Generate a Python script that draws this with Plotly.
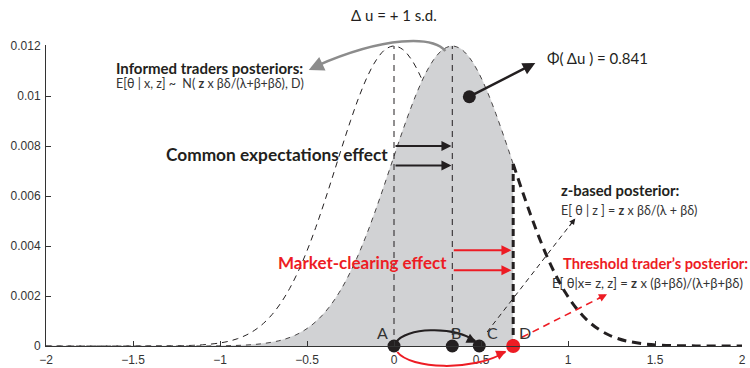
import plotly.graph_objects as go

# ---------------- data ----------------
# informed traders' posterior density (centred at A)
thin_x = [-2.0, -1.4, -1.3, -1.2, -1.1, -1.0, -0.95, -0.9, -0.85, -0.8, -0.75, -0.7, -0.65,
          -0.6, -0.55, -0.5, -0.45, -0.4, -0.35, -0.3, -0.25, -0.2, -0.15, -0.1, -0.05, 0.0,
          0.05, 0.1, 0.15, 0.2, 0.25, 0.3, 0.35, 0.4, 0.45, 0.5, 0.55, 0.6]
thin_y = [0.0, 0.0000015, 0.0000051, 0.0000161, 0.0000464, 0.000122, 0.000190, 0.000291,
          0.000435, 0.000635, 0.000907, 0.001265, 0.001725, 0.002298, 0.002992, 0.003808,
          0.004736, 0.005757, 0.006838, 0.007938, 0.009007, 0.009987, 0.010822, 0.011461,
          0.011863, 0.012, 0.011863, 0.011461, 0.010822, 0.009987, 0.009007, 0.007938,
          0.006838, 0.005757, 0.004736, 0.003808, 0.002992, 0.002298]

# shifted posterior density (centred at B)
bold_x = [-2.0, -1.065, -0.965, -0.865, -0.765, -0.665, -0.615, -0.565, -0.515, -0.465, -0.415,
          -0.365, -0.315, -0.265, -0.215, -0.165, -0.115, -0.065, -0.015, 0.035, 0.085, 0.135,
          0.185, 0.235, 0.285, 0.335, 0.385, 0.435, 0.485, 0.535, 0.585, 0.635, 0.685, 0.735,
          0.785, 0.835, 0.885, 0.935, 0.985, 1.035, 1.085, 1.135, 1.185, 1.235, 1.285, 1.335,
          1.435, 1.535, 1.635, 1.735, 2.0]
bold_y = [0.0, 0.000004, 0.0000121, 0.0000336, 0.000086, 0.000203, 0.000302, 0.000440,
          0.000629, 0.000881, 0.001208, 0.001624, 0.002139, 0.002761, 0.003491, 0.004325,
          0.005251, 0.006246, 0.007278, 0.008311, 0.009297, 0.010192, 0.010947, 0.011520,
          0.011878, 0.012, 0.011878, 0.011520, 0.010947, 0.010192, 0.009297, 0.008311,
          0.007278, 0.006246, 0.005251, 0.004325, 0.003491, 0.002761, 0.002139, 0.001624,
          0.001208, 0.000881, 0.000629, 0.000440, 0.000302, 0.000203, 0.000086, 0.0000336,
          0.0000121, 0.000004, 0.0]

point_labels = ["A", "B", "C", "D"]
point_x = [0.0, 0.335, 0.49, 0.685]
threshold_x = 0.685
threshold_y = 0.007278
guide_x = [0.0, 0.335]
guide_top = [0.012, 0.012]
common_y = [0.0080, 0.00722]
market_y = [0.00383, 0.00303]
mass_dot = (0.433, 0.00997)

x_ticks = [-2, -1.5, -1, -0.5, 0, 0.5, 1, 1.5, 2]
y_ticks = [0, 0.002, 0.004, 0.006, 0.008, 0.01, 0.012]

# ---------------- style ----------------
BLACK = "#231f20"
RED = "#ed1c24"
GREY = "#8c8c8c"
FILL = "#d1d2d4"
TXT = "Lato, 'Open Sans', sans-serif"

fig = go.Figure()

fig.add_trace(go.Scatter(x=thin_x, y=thin_y, mode="lines", line_shape="spline",
                         line=dict(color=BLACK, width=1, dash="6px,5px"), hoverinfo="skip"))

fx = [x for x in bold_x if x <= threshold_x + 1e-9]
fy = bold_y[:len(fx)]
fig.add_trace(go.Scatter(x=fx, y=fy, mode="lines", line_shape="spline", fill="tozeroy",
                         fillcolor=FILL, line=dict(color=FILL, width=0.5), hoverinfo="skip"))
fig.add_trace(go.Scatter(x=fx, y=fy, mode="lines", line_shape="spline",
                         line=dict(color=BLACK, width=0.8, dash="5px,5px"), hoverinfo="skip"))
rx = [x for x in bold_x if x >= threshold_x - 1e-9]
ry = bold_y[len(bold_x) - len(rx):]
fig.add_trace(go.Scatter(x=rx, y=ry, mode="lines", line_shape="spline",
                         line=dict(color=BLACK, width=3, dash="9px,6px"), hoverinfo="skip"))

for gx, gt in zip(guide_x, guide_top):
    fig.add_trace(go.Scatter(x=[gx, gx], y=[0, gt], mode="lines",
                             line=dict(color=BLACK, width=1, dash="6px,5px"), hoverinfo="skip"))
fig.add_trace(go.Scatter(x=[threshold_x, threshold_x], y=[0, threshold_y], mode="lines",
                         line=dict(color=BLACK, width=3, dash="7px,4px"), hoverinfo="skip"))

fig.add_trace(go.Scatter(x=point_x, y=[0] * len(point_x), mode="markers", cliponaxis=False,
                         marker=dict(size=[13, 13, 13, 14], color=[BLACK, BLACK, BLACK, RED],
                                     opacity=1, line=dict(width=0)),
                         hoverinfo="skip"))
fig.add_trace(go.Scatter(x=[mass_dot[0]], y=[mass_dot[1]], mode="markers",
                         marker=dict(size=13, color=BLACK), hoverinfo="skip"))

ann = []
def arrow(x, y, ax, ay, color, width=2, size=1.0, ref="y", axref="x", ayref="y", head=2):
    ann.append(dict(x=x, y=y, ax=ax, ay=ay, xref="x", yref=ref, axref=axref, ayref=ayref,
                    showarrow=True, arrowhead=head, arrowsize=size, arrowwidth=width,
                    arrowcolor=color, standoff=0, text=""))

for yy in common_y:
    arrow(point_x[1] - 0.005, yy, point_x[0], yy, BLACK, 2)
for yy in market_y:
    arrow(threshold_x - 0.01, yy, point_x[1], yy, RED, 2)
arrow(0.812, 0.01132, mass_dot[0], mass_dot[1], BLACK, 2.5)

# dashed pointer lines and curved arrows
shapes = [
    dict(type="line", xref="x", yref="y", x0=0.535, y0=0.00056, x1=1.03, y1=0.0050,
         line=dict(color=BLACK, width=1, dash="5px,4px")),
    dict(type="line", xref="x", yref="y", x0=0.735, y0=0.00035, x1=1.21, y1=0.00202,
         line=dict(color=RED, width=1.6, dash="7px,5px")),
    dict(type="path", xref="x", yref="paper",
         path="M 0.013,0.0133 C 0.065,0.0598 0.335,0.0698 0.468,0.0166",
         line=dict(color=BLACK, width=2)),
    dict(type="path", xref="x", yref="paper",
         path="M 0.019,-0.0199 C 0.094,-0.0764 0.452,-0.0864 0.64,-0.0199",
         line=dict(color=RED, width=2)),
    dict(type="path", xref="x", yref="paper",
         path="M 0.295,0.980 C 0.220,1.030 -0.050,1.030 -0.447,0.930",
         line=dict(color=GREY, width=2.5)),
]
ann.append(dict(x=1.042, y=0.0051, ax=-7, ay=9, xref="x", yref="y", showarrow=True,
                arrowhead=2, arrowsize=1, arrowwidth=1.2, arrowcolor=BLACK, standoff=0, text=""))
ann.append(dict(x=1.224, y=0.00207, ax=-10, ay=5, xref="x", yref="y", showarrow=True,
                arrowhead=2, arrowsize=1, arrowwidth=1.6, arrowcolor=RED, standoff=0, text=""))
ann.append(dict(x=0.475, y=0.011, ax=-10, ay=-5, xref="x", yref="paper", showarrow=True,
                arrowhead=2, arrowsize=1, arrowwidth=2, arrowcolor=BLACK, standoff=0, text=""))
ann.append(dict(x=0.645, y=-0.017, ax=-11, ay=5, xref="x", yref="paper", showarrow=True,
                arrowhead=2, arrowsize=1, arrowwidth=2, arrowcolor=RED, standoff=0, text=""))
ann.append(dict(x=-0.49, y=0.917, ax=13, ay=-6, xref="x", yref="paper", showarrow=True,
                arrowhead=2, arrowsize=1.2, arrowwidth=2.5, arrowcolor=GREY, standoff=0, text=""))

def label(x, y, text, size, color=BLACK, xanchor="left", yref="y", bold=False):
    ann.append(dict(x=x, y=y, xref="x", yref=yref, text=(f"<b>{text}</b>" if bold else text),
                    showarrow=False, xanchor=xanchor, yanchor="middle",
                    font=dict(family=TXT, size=size, color=color)))

label(0.0, 1.0997, "Δ u = + 1 s.d.", 15, xanchor="center", yref="paper")
label(0.870, 0.01152, "Φ( Δu ) = 0.841", 15)
label(-1.607, 0.01112, "Informed traders posteriors:", 15, bold=True)
label(-1.607, 0.01051, "E[θ | x, z] ~  N( <b>z</b> x βδ/(λ+β+βδ), D)", 12.5, color="#333333")
label(-0.021, 0.00765, "Common expectations effect", 17.3, xanchor="right", bold=True)
label(0.318, 0.00335, "Market-clearing effect", 17, color=RED, xanchor="right", bold=True)
label(0.950, 0.00626, "z-based posterior:", 14.8, bold=True)
label(0.950, 0.00544, "E[ θ | z ] = <b>z</b> x βδ/(λ + βδ)", 12.5, color="#333333")
label(0.962, 0.00331, "Threshold trader’s posterior:", 14.7, color=RED, bold=True)
label(0.899, 0.00253, "E[ θ|x= z, z] = <b>z</b> x (β+βδ)/(λ+β+βδ)", 13, color="#333333")
for name, lx in zip(point_labels, [-0.067, 0.358, 0.565, 0.755]):
    label(lx, 0.00054, name, 16, color="#333333", xanchor="center")

fig.update_layout(
    width=750, height=368, margin=dict(l=46, r=8, t=45, b=22, autoexpand=False),
    paper_bgcolor="white", plot_bgcolor="white", showlegend=False,
    annotations=ann, shapes=shapes,
    xaxis=dict(range=[-2, 2], tickvals=x_ticks, ticks="inside", ticklen=5, tickcolor="#333",
               showline=True, linecolor="#333", linewidth=1, showgrid=False, zeroline=False,
               automargin=False, ticklabelstandoff=3,
               tickfont=dict(family="Liberation Sans, Arial", size=12, color="#333")),
    yaxis=dict(range=[0, 0.01204], tickvals=y_ticks, ticks="inside", ticklen=5, tickcolor="#333",
               showline=True, linecolor="#333", linewidth=1, showgrid=False, zeroline=False,
               automargin=False, ticklabelstandoff=2,
               tickfont=dict(family="Liberation Sans, Arial", size=12, color="#333")),
)

fig.write_html("out.html", config={"displayModeBar": False},
               post_script="document.body.style.margin='0px';document.body.style.overflow='hidden';")
